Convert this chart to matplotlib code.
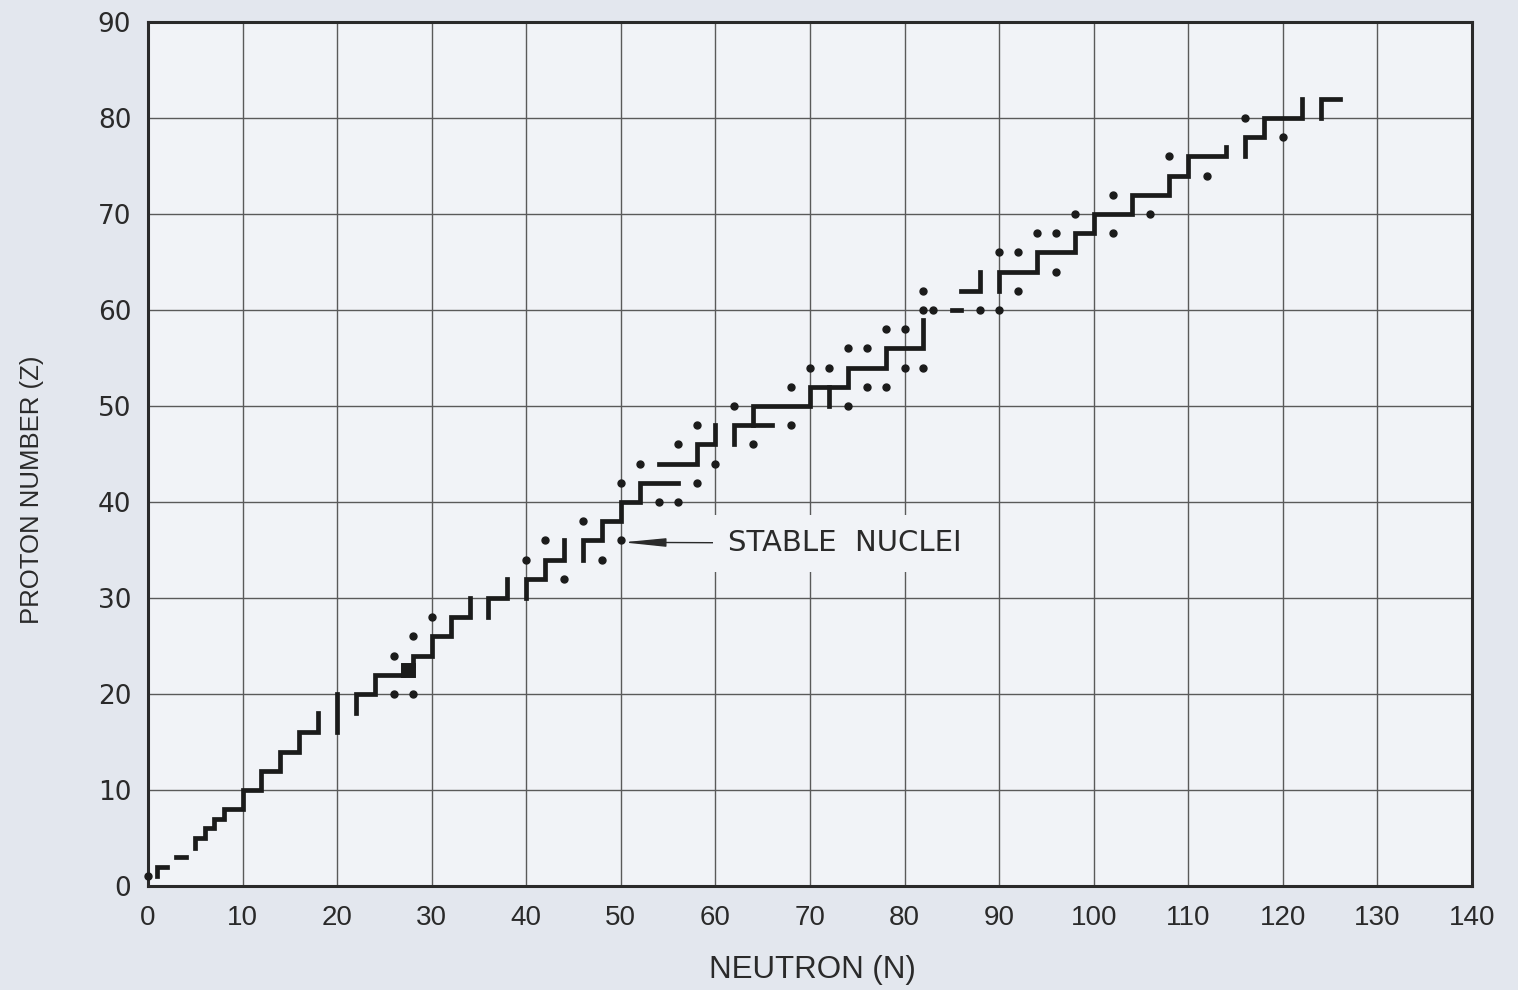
import numpy as np
import matplotlib
matplotlib.use("Agg")
import matplotlib.pyplot as plt

# ---------------- data (neutron number N, proton number Z) ----------------
# connected runs of stable nuclei drawn as a staircase line
paths_n = [
    [1, 1, 2],
    [3, 4],
    [5, 5, 6, 6, 7, 7, 8, 8, 10, 10, 12, 12, 14, 14, 16, 16, 18, 18],
    [20, 20],
    [22, 22, 24, 24, 28, 28, 30, 30, 32, 32, 34, 34],
    [27, 27, 28],
    [36, 36, 38, 38],
    [40, 40, 42, 42, 44, 44],
    [46, 46, 48, 48, 50, 50, 52, 52, 56],
    [54, 58, 58, 60, 60],
    [62, 62, 66],
    [64, 64, 70, 70, 74, 74, 78, 78, 82, 82],
    [72, 72],
    [85, 86],
    [86, 88, 88],
    [90, 90, 94, 94, 98, 98, 100, 100, 104, 104, 108, 108, 110, 110, 114, 114],
    [116, 116, 118, 118, 122, 122],
    [124, 124, 126],
]
paths_z = [
    [1, 2, 2],
    [3, 3],
    [4, 5, 5, 6, 6, 7, 7, 8, 8, 10, 10, 12, 12, 14, 14, 16, 16, 18],
    [16, 20],
    [18, 20, 20, 22, 22, 24, 24, 26, 26, 28, 28, 30],
    [22, 23, 23],
    [28, 30, 30, 32],
    [30, 32, 32, 34, 34, 36],
    [34, 36, 36, 38, 38, 40, 40, 42, 42],
    [44, 44, 46, 46, 48],
    [46, 48, 48],
    [48, 50, 50, 52, 52, 54, 54, 56, 56, 59],
    [50, 52],
    [60, 60],
    [62, 62, 64],
    [62, 64, 64, 66, 66, 68, 68, 70, 70, 72, 72, 74, 74, 76, 76, 77],
    [76, 78, 78, 80, 80, 82],
    [80, 82, 82],
]
# 2x2 block of stable nuclei drawn filled (lower-left cell corner)
block_n = [27]
block_z = [22]

# isolated stable nuclei drawn as dots
dots_n = [0, 26, 28, 26, 28, 30, 44, 40, 48, 42, 50, 46, 54, 56, 50, 58, 52, 60,
          56, 64, 58, 68, 62, 74, 68, 76, 78, 70, 72, 80, 82, 74, 76, 78, 80,
          82, 83, 88, 90, 82, 92, 96, 90, 92, 94, 96, 102, 98, 106, 102, 112,
          108, 120, 116]
dots_z = [1, 20, 20, 24, 26, 28, 32, 34, 34, 36, 36, 38, 40, 40, 42, 42, 44, 44,
          46, 46, 48, 48, 50, 50, 52, 52, 52, 54, 54, 54, 54, 56, 56, 58, 58,
          60, 60, 60, 60, 62, 62, 64, 66, 66, 68, 68, 68, 70, 70, 72, 74,
          76, 78, 80]

x_ticks = list(range(0, 141, 10))
y_ticks = list(range(0, 91, 10))
label_text = "STABLE  NUCLEI"
label_point = (50.2, 35.8)
label_pos = (61.3, 35.7)

# ---------------- figure ----------------
fig_bg = "#e3e7ee"
ax_bg = "#f1f3f7"
ink = "#1b1b1b"

fig = plt.figure(figsize=(15.18, 9.90), dpi=100, facecolor=fig_bg)
ax = fig.add_axes([148 / 1518, 1 - 886 / 990, (1472 - 148) / 1518, (886 - 22) / 990])
ax.set_facecolor(ax_bg)
ax.set_xlim(0, 140)
ax.set_ylim(0, 90)
ax.set_xticks(x_ticks)
ax.set_yticks(y_ticks)
ax.grid(True, color="#5a5a5a", linewidth=1.0, zorder=1)
ax.set_axisbelow(True)
for s in ax.spines.values():
    s.set_linewidth(2.2)
    s.set_color("#2a2a2a")
ax.tick_params(axis="x", length=0, pad=14)
ax.tick_params(axis="y", length=0, pad=12)
for t in ax.get_xticklabels():
    t.set_fontfamily(["Liberation Sans", "DejaVu Sans"])
    t.set_fontsize(20)
    t.set_color("#2a2a2a")
for t in ax.get_yticklabels():
    t.set_fontfamily(["DejaVu Sans"])
    t.set_fontsize(19)
    t.set_color("#2a2a2a")

for pn, pz in zip(paths_n, paths_z):
    ax.plot(pn, pz, color=ink, linewidth=3.4, solid_capstyle="projecting",
            solid_joinstyle="miter", zorder=3, clip_on=False)
for bn, bz in zip(block_n, block_z):
    ax.fill([bn, bn + 1, bn + 1, bn], [bz, bz, bz + 1, bz + 1], color=ink,
            zorder=3, linewidth=3.4, edgecolor=ink)
ax.plot(dots_n, dots_z, linestyle="none", marker="o", markersize=5.0,
        color=ink, zorder=3, clip_on=False)

ax.annotate(label_text, xy=label_point, xytext=label_pos,
            ha="left", va="center", fontsize=21, color="#2a2a2a",
            fontfamily=["DejaVu Sans"],
            bbox=dict(boxstyle="square,pad=0.5", fc=ax_bg, ec="none"),
            arrowprops=dict(arrowstyle="-|>,head_length=1.3,head_width=0.13",
                            color="#2a2a2a", lw=1.0, shrinkA=0, shrinkB=0,
                            mutation_scale=20),
            zorder=4)

fig.text(812 / 1518, 1 - 970 / 990, "NEUTRON (N)", ha="center", va="center",
         fontsize=22.5, color="#2a2a2a",
         fontfamily=["Liberation Sans Narrow", "Liberation Sans", "DejaVu Sans"])
fig.text(32 / 1518, 1 - 490 / 990, "PROTON NUMBER (Z)", ha="center", va="center",
         rotation=90, fontsize=18.5, color="#2a2a2a",
         fontfamily=["Liberation Sans Narrow", "Liberation Sans", "DejaVu Sans"])

fig.savefig("out.png", dpi=100, facecolor=fig_bg)
